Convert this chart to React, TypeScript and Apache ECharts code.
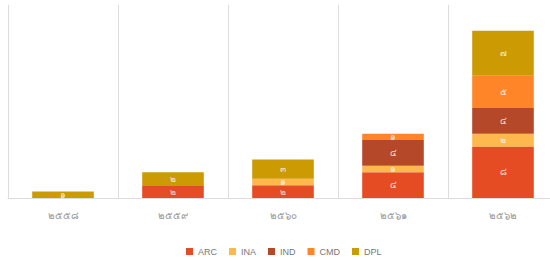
import React, { useEffect, useRef } from "react";
import * as echarts from "echarts";

const categories = ["๒๕๕๘", "๒๕๕๙", "๒๕๖๐", "๒๕๖๑", "๒๕๖๒"];
const seriesNames = ["ARC", "INA", "IND", "CMD", "DPL"];
const arc = [0, 2, 2, 4, 8];
const ina = [0, 0, 1, 1, 2];
const ind = [0, 0, 0, 4, 4];
const cmd = [0, 0, 0, 1, 5];
const dpl = [1, 2, 3, 0, 7];
const colors = ["#e64c24", "#ffb84d", "#b54828", "#ff8528", "#cc9a03"];
const thaiDigits = ["๐", "๑", "๒", "๓", "๔", "๕", "๖", "๗", "๘", "๙"];
const toThai = (n: number) => String(n).split("").map((d) => thaiDigits[+d] ?? d).join("");

export default function App() {
  const ref = useRef<HTMLDivElement>(null);
  useEffect(() => {
    document.body.style.margin = "0";
    document.body.style.overflow = "hidden";
    const chart = echarts.init(ref.current!, undefined, { renderer: "svg" });
    const values = [arc, ina, ind, cmd, dpl];
    chart.setOption({
      animation: false,
      legend: {
        bottom: 0,
        left: 181,
        itemWidth: 7,
        itemHeight: 7,
        itemGap: 12,
        icon: "rect",
        textStyle: { color: "#777", fontSize: 9, fontFamily: "sans-serif" },
        data: seriesNames,
      },
      grid: { left: 8, top: 5, right: 0, bottom: 63, containLabel: false },
      xAxis: {
        type: "category",
        data: categories,
        axisLine: { lineStyle: { color: "#ddd" } },
        axisTick: { show: false },
        splitLine: { show: true, lineStyle: { color: "#ddd" } },
        axisLabel: { color: "#999", fontSize: 10, margin: 12 },
      },
      yAxis: { type: "value", min: 0, max: 30, show: false, splitLine: { show: false } },
      series: seriesNames.map((name, i) => ({
        name,
        type: "bar",
        stack: "total",
        barWidth: "56%",
        itemStyle: { color: colors[i] },
        label: {
          show: true,
          position: "inside",
          color: "rgba(255,255,255,0.8)",
          fontSize: 9,
          formatter: (p: any) => (p.value ? toThai(p.value) : ""),
        },
        data: values[i].map((v) => (v === 0 ? null : v)),
      })),
    });
    return () => chart.dispose();
  }, []);
  return <div ref={ref} style={{ width: 558, height: 261 }} />;
}
